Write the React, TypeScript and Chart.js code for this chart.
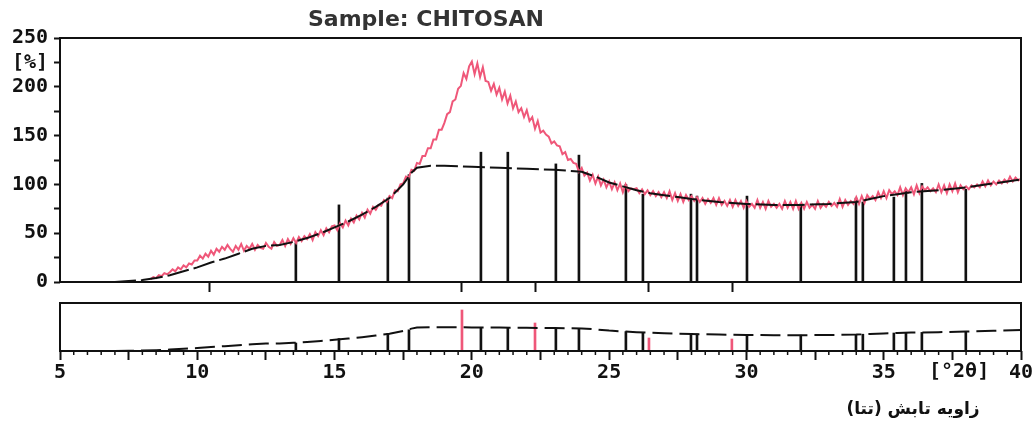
import React, { useEffect, useRef } from 'react';
import { Chart, registerables } from 'chart.js';

Chart.register(...registerables);

// ---------- data ----------
const X_MIN = 5;
const X_MAX = 40;
const Y_MAX = 250;
const LOW_Y_MAX = 240;

// measured pattern (red), one reading every 0.1 deg starting at 8.3 deg
const measuredStart = 8.3;
const measuredStep = 0.1;
const measuredValues = [
  3, 5, 4, 7, 6, 9, 8,
  10, 13, 11, 15, 13, 17, 15, 19, 18, 22,
  22, 27, 24, 29, 26, 32, 28, 34, 31, 36,
  33, 38, 34, 31, 37, 33, 39, 32, 37, 34,
  39, 33, 38, 35, 34, 40, 36, 34, 41, 37,
  38, 43, 37, 44, 39, 45, 40, 46, 42, 47,
  44, 49, 43, 51, 47, 53, 48, 55, 51, 57,
  58, 53, 60, 56, 63, 58, 65, 61, 68, 64,
  71, 66, 74, 70, 77, 74, 79, 78, 84, 82,
  88, 86, 94, 93, 100, 101, 108, 107, 115, 114,
  122, 121, 129, 129, 137, 137, 146, 146, 156, 156,
  163, 172, 174, 185, 187, 198, 201, 214, 208, 221,
  226, 213, 224, 210, 220, 206, 205, 196, 203, 192,
  199, 187, 195, 183, 191, 178, 185, 174, 178, 169,
  176, 165, 169, 157, 165, 153, 155, 151, 149, 142,
  144, 140, 139, 131, 133, 125, 126, 122, 121, 113,
  117, 109, 112, 104, 110, 101, 108, 99, 105, 97,
  103, 95, 102, 94, 101, 92, 100, 93, 96, 95,
  96, 91, 95, 90, 94, 89, 93, 88, 92, 87,
  92, 86, 93, 84, 91, 83, 90, 82, 89, 84,
  88, 83, 87, 82, 86, 80, 85, 81, 86, 79,
  86, 79, 83, 78, 84, 77, 84, 78, 83, 76,
  83, 77, 80, 76, 84, 76, 82, 75, 83, 77,
  80, 76, 80, 75, 83, 76, 82, 75, 83, 75,
  81, 75, 82, 76, 79, 75, 83, 76, 80, 77,
  82, 78, 81, 77, 85, 77, 84, 79, 83, 80,
  87, 80, 88, 81, 89, 85, 88, 84, 92, 86,
  93, 86, 94, 90, 93, 89, 97, 89, 96, 92,
  97, 90, 99, 91, 98, 94, 97, 93, 96, 92,
  100, 92, 99, 91, 100, 93, 101, 92, 99, 95,
  98, 95, 99, 97, 100, 97, 103, 98, 104, 99,
  103, 100, 104, 101, 105, 102, 108, 103, 107, 104,
  106,
];

// fitted background (black dashed)
const bgAngles = [5, 6, 7, 7.5, 8, 8.5, 9, 9.5, 10, 10.5, 11, 11.5, 12, 12.5, 13, 13.5, 14, 14.5, 15, 15.5, 16, 16.5, 17, 17.5, 17.8, 18, 18.5, 19, 20, 21, 22, 23, 24, 24.5, 25, 25.5, 26, 26.5, 27, 27.5, 28, 29, 30, 31, 32, 33, 34, 34.5, 35, 35.5, 36, 37, 38, 39, 40];
const bgValues = [0, 0, 0, 1, 2, 4, 7, 11, 15, 20, 24, 29, 34, 37, 38, 41, 45, 50, 56, 62, 69, 77, 86, 100, 112, 117, 119, 119, 118, 117, 116, 115, 113, 108, 102, 98, 94, 91, 89, 87, 85, 82, 80, 79, 79, 80, 82, 85, 88, 90, 92, 94, 97, 101, 105];

// peak sticks
const stickAngles = [13.59, 15.16, 16.94, 17.71, 20.33, 21.31, 23.06, 23.9, 25.61, 26.23, 27.98, 28.2, 30.02, 31.98, 33.99, 34.24, 35.37, 35.81, 36.39, 37.99];
const stickHeights = [40, 79, 86, 110, 133, 133, 121, 130, 100, 90, 90, 88, 88, 80, 86, 82, 87, 93, 101, 95];
const lowStickHeights = [40, 62, 86, 106, 118, 117, 115, 113, 97, 93, 86, 85, 80, 79, 82, 84, 90, 92, 93, 97];

// reference pattern markers
const refTickAngles = [10.46, 19.64, 22.3, 26.45, 29.5];
const refLineAngles = [19.64, 22.3, 26.45, 29.47];
const refLineHeights = [205, 140, 65, 60];

const yLabelSpecial = 225;
const yLabelSpecialText = '[%]';
const xUnitText = '[°2θ]';
const titleText = 'Sample: CHITOSAN';
const xTitleText = 'زاویه تابش (تتا)';

// ---------- helpers ----------
const INK = '#111111';
const RED = '#ef5779';
const MONO = '"DejaVu Sans Mono", "Liberation Mono", monospace';

const boxPlugin = {
  id: 'box',
  afterDraw(chart: any) {
    const { ctx, chartArea: a } = chart;
    ctx.save();
    ctx.strokeStyle = INK;
    ctx.lineWidth = 2;
    ctx.strokeRect(a.left, a.top, a.right - a.left, a.bottom - a.top);
    ctx.restore();
  },
};

const minorTickPlugin = {
  id: 'minorTicks',
  afterDraw(chart: any) {
    const { ctx, chartArea: a, scales } = chart;
    ctx.save();
    ctx.strokeStyle = INK;
    ctx.lineWidth = 1.5;
    for (let i = X_MIN * 2; i <= X_MAX * 2; i++) {
      const v = i / 2;
      if (Math.abs(v / 2.5 - Math.round(v / 2.5)) < 1e-6) continue;
      const px = scales.x.getPixelForValue(v);
      ctx.beginPath();
      ctx.moveTo(px, a.bottom);
      ctx.lineTo(px, a.bottom + 4);
      ctx.stroke();
    }
    ctx.restore();
  },
};

export default function App() {
  const topRef = useRef<HTMLCanvasElement>(null);
  const lowRef = useRef<HTMLCanvasElement>(null);

  useEffect(() => {
    const measured = measuredValues.map((y, i) => ({ x: +(measuredStart + i * measuredStep).toFixed(2), y }));
    const bg = bgAngles.map((x, i) => ({ x, y: bgValues[i] }));
    const sticks = stickAngles.map((x, i) => ({ x, y: stickHeights[i] }));
    const lowBg = bgAngles.map((x, i) => ({ x, y: bgValues[i] }));
    const lowSticks = stickAngles.map((x, i) => ({ x, y: lowStickHeights[i] }));
    const refLines = refLineAngles.map((x, i) => ({ x, y: refLineHeights[i] }));

    const top = new Chart(topRef.current!, {
      type: 'line',
      data: {
        datasets: [
          { type: 'line', data: bg, borderColor: INK, borderWidth: 2, borderDash: [22, 5], pointRadius: 0, order: 0 } as any,
          { type: 'line', data: measured, borderColor: RED, borderWidth: 2, pointRadius: 0, order: 1 } as any,
          { type: 'bar', data: sticks, backgroundColor: INK, barThickness: 2, order: 2 } as any,
        ],
      },
      options: {
        animation: false,
        responsive: false,
        maintainAspectRatio: false,
        layout: { padding: { left: 0, right: 14, top: 38, bottom: 0 } },
        plugins: { legend: { display: false }, tooltip: { enabled: false }, title: { display: false } },
        scales: {
          x: {
            type: 'linear',
            min: X_MIN,
            max: X_MAX,
            offset: false,
            afterBuildTicks: (s: any) => {
              s.ticks = refTickAngles.map((v) => ({ value: v }));
            },
            ticks: { display: false },
            grid: { offset: false, drawOnChartArea: false, drawTicks: true, tickLength: 10, tickWidth: 2, tickColor: INK },
            border: { display: false },
            afterFit: (s: any) => {
              s.height = 13;
            },
          },
          y: {
            type: 'linear',
            min: 0,
            max: Y_MAX,
            ticks: {
              stepSize: 25,
              autoSkip: false,
              color: INK,
              padding: 6,
              font: { family: MONO, size: 20, weight: 'bold' },
              callback: (v: any) => (v % 50 === 0 ? String(v) : v === yLabelSpecial ? yLabelSpecialText : ''),
            },
            grid: { drawOnChartArea: false, drawTicks: true, tickLength: 6, tickWidth: 2, tickColor: INK },
            border: { display: false },
            afterFit: (s: any) => {
              s.width = 60;
            },
          },
        },
      } as any,
      plugins: [boxPlugin],
    });

    const low = new Chart(lowRef.current!, {
      type: 'line',
      data: {
        datasets: [
          { type: 'line', data: lowBg, borderColor: INK, borderWidth: 2, borderDash: [20, 7], pointRadius: 0, order: 0 } as any,
          { type: 'bar', data: refLines, backgroundColor: RED, barThickness: 2, order: 1, grouped: false } as any,
          { type: 'bar', data: lowSticks, backgroundColor: INK, barThickness: 2, order: 2, grouped: false } as any,
        ],
      },
      options: {
        animation: false,
        responsive: false,
        maintainAspectRatio: false,
        layout: { padding: { left: 60, right: 14, top: 8, bottom: 40 } },
        plugins: { legend: { display: false }, tooltip: { enabled: false } },
        scales: {
          x: {
            type: 'linear',
            min: X_MIN,
            max: X_MAX,
            offset: false,
            ticks: {
              stepSize: 2.5,
              autoSkip: false,
              maxRotation: 0,
              color: INK,
              padding: 1,
              font: { family: MONO, size: 20, weight: 'bold' },
              callback: (v: any) => (Math.abs(v % 5) < 1e-6 ? String(v) : ''),
            },
            grid: { offset: false, drawOnChartArea: false, drawTicks: true, tickLength: 9, tickWidth: 2, tickColor: INK },
            border: { display: false },
            afterFit: (s: any) => {
              s.height = 30;
            },
          },
          y: { type: 'linear', display: false, min: 0, max: LOW_Y_MAX },
        },
      } as any,
      plugins: [boxPlugin, minorTickPlugin],
    });

    return () => {
      top.destroy();
      low.destroy();
    };
  }, []);

  return (
    <div style={{ position: 'absolute', left: 0, top: 0, width: 1035, height: 421, background: '#fff', overflow: 'hidden' }}>
      <canvas ref={topRef} width={1035} height={300} style={{ position: 'absolute', left: 0, top: 0 }} />
      <canvas ref={lowRef} width={1035} height={126} style={{ position: 'absolute', left: 0, top: 295 }} />
      <div
        style={{
          position: 'absolute',
          left: 308,
          top: 8,
          font: 'bold 22px "DejaVu Sans", sans-serif',
          lineHeight: '22px',
          color: '#333',
          whiteSpace: 'nowrap',
        }}
      >
        {titleText}
      </div>
      <div
        style={{
          position: 'absolute',
          left: 929,
          top: 360,
          font: `bold 20px ${MONO}`,
          lineHeight: '20px',
          color: INK,
          whiteSpace: 'nowrap',
        }}
      >
        {xUnitText}
      </div>
      <div
        dir="rtl"
        style={{
          position: 'absolute',
          left: 828,
          width: 170,
          top: 398,
          textAlign: 'center',
          font: 'bold 17px "DejaVu Sans", sans-serif',
          lineHeight: '20px',
          color: INK,
          whiteSpace: 'nowrap',
        }}
      >
        {xTitleText}
      </div>
    </div>
  );
}
